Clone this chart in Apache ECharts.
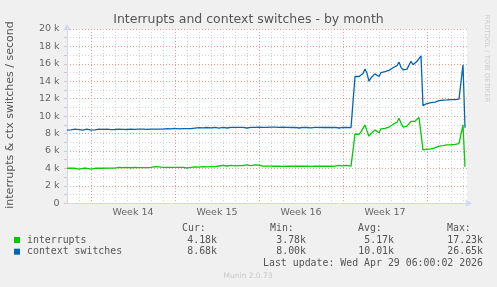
<!DOCTYPE html>
<html lang="en">
<head>
    <meta charset="UTF-8">
    <title>Interrupts and context switches - by month</title>
    <script src="https://cdn.jsdelivr.net/npm/echarts@6/dist/echarts.min.js"></script>
    <style>
        html, body { margin: 0; padding: 0; background: #f0f0f0; }
        #main { width: 497px; height: 287px; }
    </style>
</head>
<body>
<div id="main"></div>
<script>
    // hours since the left edge of the graph (one sample every 8h, then every 4h)
    var hours = [
        0, 8, 16, 24, 32, 40, 48, 56, 64, 72,
        80, 88, 96, 104, 112, 120, 128, 136, 144, 152,
        160, 168, 176, 184, 192, 200, 208, 216, 224, 232,
        240, 248, 256, 264, 272, 280, 288, 296, 304, 312,
        320, 328, 336, 344, 352, 360, 368, 376, 384, 392,
        400, 408, 416, 424, 432, 440, 448, 456, 464, 472,
        480, 488, 496, 504, 512, 520, 528, 536, 544, 552,
        560, 568,
        572, 576, 580, 584, 588, 592, 596, 600, 604, 608,
        612, 616, 620, 624, 628, 632, 636, 640, 644, 648,
        652, 656, 660, 664, 668, 672, 676, 680, 684, 688,
        692, 696, 700, 704, 708, 712, 716, 720, 724, 728,
        732, 736, 740, 744, 748, 752, 756, 760, 764, 768,
        772, 776, 780, 784, 788, 792, 796
    ];

    var interrupts = [
        4020, 4020, 4020, 3920, 4020, 4020, 3920, 4020, 4020, 4020,
        4030, 4030, 4040, 4120, 4100, 4130, 4080, 4120, 4100, 4100,
        4100, 4120, 4200, 4180, 4120, 4120, 4120, 4130, 4120, 4120,
        4050, 4120, 4180, 4140, 4220, 4180, 4220, 4200, 4280, 4360,
        4280, 4360, 4300, 4320, 4320, 4400, 4320, 4400, 4380, 4260,
        4260, 4260, 4250, 4250, 4240, 4250, 4250, 4260, 4250, 4250,
        4250, 4240, 4250, 4250, 4250, 4260, 4250, 4260, 4360, 4300,
        4360, 4270,
        4280, 7950, 8050, 7900, 8200, 8400, 9000, 8300, 7700, 8000,
        8200, 8400, 8500, 8100, 8550, 8400, 8600, 8550, 8750, 8800,
        9050, 8950, 9300, 9750, 9200, 8750, 8900, 8850, 8800, 9400,
        9250, 9400, 9600, 9850, 10000, 6130, 6150, 6200, 6200, 6250,
        6300, 6350, 6450, 6550, 6600, 6620, 6650, 6700, 6680, 6720,
        6700, 6750, 6780, 6850, 6900, 9000, 4180
    ];

    var ctxSwitches = [
        8400, 8420, 8500, 8450, 8400, 8500, 8400, 8420, 8500, 8480,
        8520, 8450, 8470, 8520, 8480, 8470, 8500, 8480, 8500, 8500,
        8490, 8500, 8500, 8520, 8500, 8580, 8550, 8600, 8550, 8560,
        8570, 8560, 8620, 8680, 8650, 8700, 8660, 8700, 8620, 8700,
        8640, 8720, 8720, 8710, 8720, 8640, 8720, 8720, 8730, 8720,
        8720, 8740, 8730, 8720, 8730, 8720, 8700, 8720, 8640, 8720,
        8700, 8660, 8720, 8720, 8700, 8710, 8700, 8720, 8640, 8720,
        8700, 8680,
        8700, 14550, 14400, 14550, 14700, 14900, 15400, 14900, 14000, 14400,
        14600, 14850, 14950, 14550, 15000, 14850, 15100, 15050, 15250, 15300,
        15550, 15450, 15800, 16200, 15600, 15300, 15450, 15400, 15250, 16300,
        15900, 16100, 16300, 16600, 16900, 11200, 11350, 11450, 11450, 11550,
        11600, 11620, 11700, 11780, 11750, 11850, 11850, 11870, 11850, 11900,
        11880, 11900, 11920, 11950, 11950, 15900, 8680
    ];

    // week labels sit mid-week; first one 132h from the left edge, then every 168h
    var weekLabels = ['Week 14', 'Week 15', 'Week 16', 'Week 17'];

    // legend table
    var seriesNames = ['interrupts', 'context switches'];
    var seriesColors = ['#00cc00', '#0066b3'];
    var curVals = ['4.18k', '8.68k'];
    var minVals = ['3.78k', '8.00k'];
    var avgVals = ['5.17k', '10.01k'];
    var maxVals = ['17.23k', '26.65k'];
    var lastUpdate = 'Last update: Wed Apr 29 06:00:02 2026';

    var FONT = '#666666';
    var GRID = '#d4d4d4';
    var MGRID = '#ee9c9c';
    var AXIS = '#cfd6f8';
    var NONE = 'rgba(0,0,0,0)';

    // x split lines every 12h: day lines gray, Mondays red, half days hidden
    var xLineColors = [GRID, NONE, GRID, NONE, MGRID, NONE, GRID, NONE, GRID, NONE, GRID, NONE, GRID, NONE];

    var myChart = echarts.init(document.getElementById('main'));

    function pairs(vals) {
        return hours.map(function (h, i) { return [h, vals[i]]; });
    }

    // legend graphics
    var graphics = [];
    function txt(x, y, s, align, font, color) {
        graphics.push({
            type: 'text', x: x, y: y, silent: true,
            style: {
                text: s, fill: color || '#555', font: font || '9.9px "DejaVu Sans Mono"',
                textAlign: align || 'left', textVerticalAlign: 'middle'
            }
        });
    }
    txt(182, 228, 'Cur:');
    txt(270, 228, 'Min:');
    txt(358, 228, 'Avg:');
    txt(447, 228, 'Max:');
    for (var i = 0; i < seriesNames.length; i++) {
        var y = 240 + i * 11.7;
        graphics.push({
            type: 'rect', shape: { x: 14, y: y - 3, width: 6, height: 6 },
            style: { fill: seriesColors[i] }, silent: true
        });
        txt(27, y, seriesNames[i]);
        txt(217, y, curVals[i], 'right');
        txt(306, y, minVals[i], 'right');
        txt(394, y, avgVals[i], 'right');
        txt(483, y, maxVals[i], 'right');
    }
    txt(483, 263.5, lastUpdate, 'right');
    txt(248, 276, 'Munin 2.0.73', 'center', '7.5px "DejaVu Sans"', '#c8c8c8');
    // y axis name
    graphics.push({
        type: 'text', x: 10, y: 115, rotation: Math.PI / 2, silent: true,
        style: {
            text: 'interrupts & ctx switches / second', fill: '#555',
            font: '11px "DejaVu Sans"', textAlign: 'center', textVerticalAlign: 'middle'
        }
    });
    // rrdtool watermark
    graphics.push({
        type: 'text', x: 487, y: 58.5, rotation: -Math.PI / 2, silent: true,
        style: {
            text: 'RRDTOOL / TOBI OETIKER', fill: '#cccccc',
            font: '6.8px "DejaVu Sans"', textAlign: 'center', textVerticalAlign: 'middle'
        }
    });

    var option = {
        animation: false,
        backgroundColor: '#f0f0f0',
        title: {
            text: 'Interrupts and context switches - by month',
            left: 'center',
            top: 12.5,
            padding: 0,
            textStyle: {
                fontFamily: 'DejaVu Sans', fontSize: 12.5, fontWeight: 'normal',
                color: '#555', lineHeight: 14
            }
        },
        grid: {
            left: 67, top: 29, width: 400, height: 174.3,
            show: true, backgroundColor: '#ffffff', borderWidth: 0
        },
        xAxis: {
            type: 'value',
            min: 0,
            max: 800,
            interval: 12,
            axisLine: {
                lineStyle: { color: AXIS, width: 1 },
                symbol: ['none', 'arrow'], symbolSize: [6, 7], symbolOffset: [0, 5]
            },
            axisTick: { show: false },
            axisLabel: {
                margin: 4.5,
                color: FONT, fontFamily: 'DejaVu Sans', fontSize: 9.5,
                formatter: function (v) {
                    var k = (v - 132) / 168;
                    if (k >= 0 && k === Math.floor(k) && weekLabels[k]) return weekLabels[k];
                    return '';
                }
            },
            splitLine: { show: true, lineStyle: { color: xLineColors, type: [1, 2], width: 1 } }
        },
        yAxis: {
            type: 'value',
            min: 0,
            max: 20000,
            interval: 1000,
            axisLine: {
                show: true,
                lineStyle: { color: AXIS, width: 1 },
                symbol: ['none', 'arrow'], symbolSize: [6, 7], symbolOffset: [0, 5]
            },
            axisTick: { show: true, length: 3, lineStyle: { color: '#e0c0c0' } },
            axisLabel: {
                margin: 7.5,
                color: FONT, fontFamily: 'DejaVu Sans', fontSize: 9.5,
                formatter: function (v) {
                    if (v === 0) return '0';
                    if (v % 2000 !== 0) return '';
                    return (v / 1000) + ' k';
                }
            },
            splitLine: { show: true, lineStyle: { color: [MGRID, GRID], type: [1, 2], width: 1 } }
        },
        series: [
            {
                name: seriesNames[0], type: 'line', showSymbol: false,
                data: pairs(interrupts),
                lineStyle: { color: seriesColors[0], width: 1.3 },
                itemStyle: { color: seriesColors[0] }
            },
            {
                name: seriesNames[1], type: 'line', showSymbol: false,
                data: pairs(ctxSwitches),
                lineStyle: { color: seriesColors[1], width: 1.3 },
                itemStyle: { color: seriesColors[1] }
            }
        ],
        graphic: graphics
    };

    myChart.setOption(option);
</script>
</body>
</html>
